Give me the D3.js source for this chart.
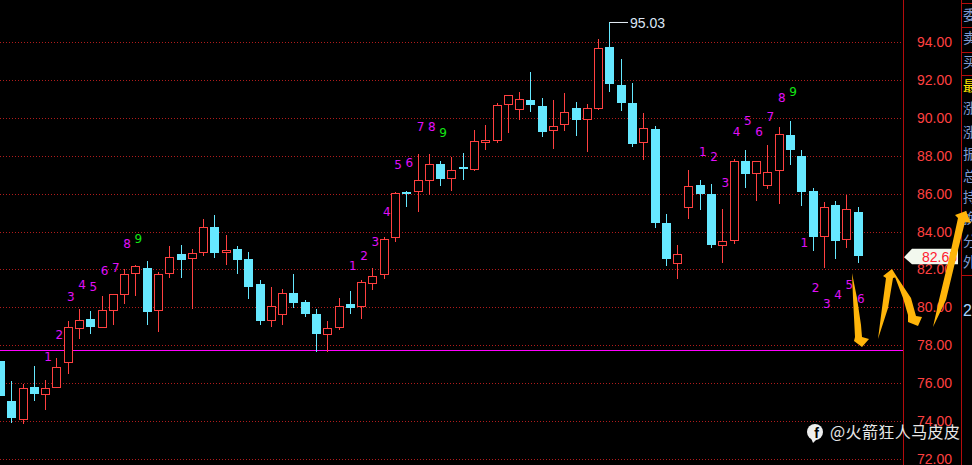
<!DOCTYPE html>
<html>
<head>
<meta charset="utf-8">
<script src="https://cdn.jsdelivr.net/npm/d3@7"></script>
<style>
  html, body { margin: 0; padding: 0; background: #000; overflow: hidden; }
  svg { display: block; }
</style>
</head>
<body>
<svg class="chart" width="972" height="465"></svg>
<script>
// candle values
const opens = [77.17,75.06,74.12,75.80,75.39,75.76,77.08,78.87,79.38,78.92,79.87,80.66,81.77,82.07,79.82,81.77,82.81,82.56,82.88,84.24,82.88,83.08,82.55,81.23,79.29,79.61,80.76,80.28,79.65,78.59,78.95,80.17,80.05,81.32,81.72,83.70,86.07,86.10,86.73,87.57,86.79,87.40,87.26,88.72,88.79,90.69,90.43,90.94,90.62,89.32,89.64,90.52,89.90,90.53,93.74,91.73,90.78,88.69,89.41,84.45,82.32,85.26,86.45,85.98,83.25,83.51,87.72,87.05,86.42,87.21,89.09,87.98,86.14,83.73,85.40,83.57,85.03];
const closes = [75.32,74.16,75.73,75.43,75.73,76.83,78.95,79.31,78.96,79.84,80.69,81.74,82.16,79.75,81.74,82.64,82.50,82.85,84.22,82.87,83.01,82.50,81.07,79.28,80.05,80.74,80.23,79.65,78.59,78.91,80.05,79.96,81.32,81.67,83.59,86.02,85.98,86.70,87.55,86.77,87.23,87.32,88.76,88.83,90.66,91.19,90.98,90.68,89.25,89.55,90.29,89.88,90.50,93.67,91.78,90.78,88.62,89.45,84.45,82.55,82.80,86.39,85.98,83.29,83.48,87.70,87.03,87.70,87.12,89.13,88.30,86.08,83.71,85.28,83.50,85.17,82.71];
const highs = [77.17,76.11,75.95,76.90,76.16,77.33,79.26,79.89,79.80,80.60,80.69,82.00,82.22,82.43,81.85,83.23,83.29,83.08,84.66,84.87,83.82,83.23,82.92,81.44,81.07,80.97,81.76,80.39,79.91,79.28,80.49,80.86,81.43,82.07,83.70,86.07,86.14,88.09,88.09,87.72,87.95,88.14,89.36,89.62,90.77,91.19,91.36,92.42,91.03,90.94,91.31,90.83,90.73,94.16,95.03,93.10,91.84,90.25,89.57,84.92,83.29,87.25,86.72,86.51,85.19,87.83,88.30,87.70,88.56,89.51,89.83,88.30,86.30,85.56,85.61,85.93,85.30];
const lows = [75.32,73.91,73.86,75.06,74.58,75.76,76.48,78.33,78.59,78.92,79.07,80.17,80.60,79.07,78.70,81.55,81.55,79.91,82.71,82.60,82.23,81.76,80.44,79.07,78.96,79.07,79.96,79.49,77.64,77.64,78.80,79.65,79.38,80.91,81.49,83.45,85.30,85.03,85.93,86.40,86.14,86.72,87.19,88.30,88.67,89.20,89.88,90.31,88.99,88.35,89.30,89.04,88.19,90.41,91.36,90.36,88.46,87.77,84.18,82.18,81.49,84.66,85.13,83.13,82.34,83.34,86.30,85.61,86.24,85.45,87.51,85.35,82.97,82.07,82.55,83.13,82.34];

// sequence counters above / below the candles
const countText = ["1","2","3","4","5","6","7","8","9","1","2","3","4","5","6","7","8","9","1","2","3","4","5","6","7","8","9","1","2","3","4","5","6"];
const countIndex = [4,5,6,7,8,9,10,11,12,31,32,33,34,35,36,37,38,39,62,63,64,65,66,67,68,69,70,71,72,73,74,75,76];
const countPrice = [77.38,78.54,80.54,81.18,81.07,81.92,82.07,83.34,83.60,82.18,82.71,83.45,85.03,87.51,87.62,89.51,89.51,89.20,88.19,87.93,86.56,89.25,89.83,89.25,90.04,91.04,91.36,83.39,81.02,80.17,80.65,81.18,80.44];

const priceTicks = [72,74,76,78,80,82,84,86,88,90,92,94];
const supportPrice = 77.73;
const lastPrice = 82.65;
const highIndex = 54;
const sideLabels = ["委","卖","买","最","涨","涨","振","总","持","换","分","外"];

const svg = d3.select(".chart");
const width = 972;
const height = 465;
const plotRight = 903;
const sideLeft = 961;

const red = "#ff4040";
const cyan = "#66e8ff";
const gridRed = "#b01c1c";
const frameRed = "#b40c0c";

const x = d3.scaleLinear().domain([0, opens.length - 1]).range([0, 857.7]);
const y = d3.scaleLinear().domain([72, 94]).range([459, 42]);

// crisp 1px lines
const px = (v) => Math.round(v) + 0.5;
const isUp = (i) => closes[i] >= opens[i];

svg.append("rect").attr("width", width).attr("height", height).attr("fill", "#000");

// grid
svg.append("g")
  .selectAll("line")
  .data(priceTicks)
  .join("line")
  .attr("x1", 0)
  .attr("x2", plotRight)
  .attr("y1", (d) => px(y(d)))
  .attr("y2", (d) => px(y(d)))
  .attr("stroke", gridRed)
  .attr("stroke-dasharray", "1,2");

// frame lines on the right
const frame = svg.append("g").attr("stroke", frameRed).attr("fill", "none");
frame.append("line").attr("x1", 903.5).attr("x2", 903.5).attr("y1", 0).attr("y2", height);
frame.append("line").attr("x1", sideLeft + 0.5).attr("x2", sideLeft + 0.5).attr("y1", 0).attr("y2", height);
[3, 27, 52, 75, 275].forEach((h) => {
  frame.append("line").attr("x1", sideLeft).attr("x2", width).attr("y1", h + 0.5).attr("y2", h + 0.5);
});

// price axis
const axis = d3.axisLeft(y).tickValues(priceTicks).tickFormat(d3.format(".2f")).tickSize(0);
const axisG = svg.append("g").attr("transform", "translate(952,0)").call(axis);
axisG.select(".domain").remove();
axisG.selectAll("text")
  .attr("x", 0)
  .attr("fill", red)
  .attr("font-family", "'Liberation Sans', Arial, sans-serif")
  .attr("font-size", 14);

// support line
svg.append("line")
  .attr("x1", 0)
  .attr("x2", plotRight)
  .attr("y1", px(y(supportPrice)))
  .attr("y2", px(y(supportPrice)))
  .attr("stroke", "#ff00ff");

// candles
const candles = svg.append("g")
  .selectAll("g")
  .data(opens.map((d, i) => i))
  .join("g");

candles.append("line")
  .attr("x1", (i) => px(x(i)))
  .attr("x2", (i) => px(x(i)))
  .attr("y1", (i) => Math.round(y(highs[i])))
  .attr("y2", (i) => Math.round(y(lows[i])))
  .attr("stroke", (i) => (isUp(i) ? red : cyan));

candles.append("rect")
  .attr("x", (i) => (isUp(i) ? px(x(i)) - 4 : px(x(i)) - 4.5))
  .attr("width", (i) => (isUp(i) ? 8 : 9))
  .attr("y", (i) => {
    const top = y(Math.max(opens[i], closes[i]));
    return isUp(i) ? px(top) : Math.round(top);
  })
  .attr("height", (i) => Math.max(Math.round(Math.abs(y(opens[i]) - y(closes[i]))), 1))
  .attr("fill", (i) => (isUp(i) ? "#000" : cyan))
  .attr("stroke", (i) => (isUp(i) ? red : "none"));

// counters
svg.append("g")
  .selectAll("text")
  .data(countText)
  .join("text")
  .attr("x", (d, i) => x(countIndex[i]) + 3)
  .attr("y", (d, i) => y(countPrice[i]))
  .attr("dy", "0.36em")
  .attr("text-anchor", "middle")
  .attr("font-family", "'DejaVu Sans', sans-serif")
  .attr("font-size", 12)
  .attr("fill", (d) => (d === "9" ? "#14e614" : "#e010f8"))
  .text((d) => d);

// highest price note
const highX = px(x(highIndex));
svg.append("path")
  .attr("d", `M${highX},${y(highs[highIndex])}H628`)
  .attr("fill", "none")
  .attr("stroke", "#e8f0f8");
svg.append("text")
  .attr("x", 630)
  .attr("y", y(highs[highIndex]))
  .attr("dy", "0.36em")
  .attr("font-family", "'Liberation Sans', Arial, sans-serif")
  .attr("font-size", 14)
  .attr("fill", "#dce6f5")
  .text(highs[highIndex].toFixed(2));

// last price tag
const tagY = y(lastPrice);
svg.append("path")
  .attr("d", `M904,${tagY}L912,${tagY - 8.5}H958V${tagY + 7}H912Z`)
  .attr("fill", "#f2f8ee");
svg.append("text")
  .attr("x", 922)
  .attr("y", tagY)
  .attr("dy", "0.36em")
  .attr("font-family", "'Liberation Sans', Arial, sans-serif")
  .attr("font-size", 14)
  .attr("fill", "#ff2030")
  .text(lastPrice.toFixed(2));

// side panel labels, cut off by the window edge
svg.append("g")
  .selectAll("text")
  .data(sideLabels)
  .join("text")
  .attr("x", 963)
  .attr("y", (d, i) => [15, 38, 62, 86, 108, 132, 154, 176, 197, 218, 241, 262][i])
  .attr("dy", "0.36em")
  .attr("font-family", "'Noto Sans CJK SC', sans-serif")
  .attr("font-size", 14)
  .attr("fill", (d) => (d === "最" ? "#ffe600" : "#7f9ad0"))
  .text((d) => d);

svg.append("text")
  .attr("x", 963)
  .attr("y", 310)
  .attr("dy", "0.36em")
  .attr("font-family", "'Liberation Sans', Arial, sans-serif")
  .attr("font-size", 16)
  .attr("fill", "#a8d4ff")
  .text("2");

// hand drawn arrows
const arrows = [
  "852,273 857,298 861,325 862,337 869,339 862,347 854,341 855,337 853,298",
  "878,339 882,308 886,278 883,276 892,269 897,277 893,278 888,308",
  "895,277 903,298 908,315 908,322 918,326 922,317 916,316 911,298 897,277",
  "933,327 939,300 951,250 958,218 955,215 966,211 971,223 965,222 958,250 946,300",
];
svg.append("g")
  .selectAll("polygon")
  .data(arrows)
  .join("polygon")
  .attr("points", (d) => d)
  .attr("fill", "#ffb50a");

// watermark
const mark = svg.append("g");
mark.append("circle").attr("cx", 815).attr("cy", 432).attr("r", 8).attr("fill", "#eee");
mark.append("path").attr("d", "M811,438L813,443L817,439Z").attr("fill", "#eee");
mark.append("text")
  .attr("x", 816.5)
  .attr("y", 438)
  .attr("text-anchor", "middle")
  .attr("font-family", "'Liberation Sans', Arial, sans-serif")
  .attr("font-weight", "bold")
  .attr("font-size", 14)
  .attr("fill", "#000")
  .text("f");
mark.append("text")
  .attr("x", 830)
  .attr("y", 432)
  .attr("dy", "0.36em")
  .attr("font-family", "'Noto Sans CJK SC', sans-serif")
  .attr("font-size", 16)
  .attr("letter-spacing", 0.4)
  .attr("fill", "#e8e8e8")
  .text("@火箭狂人马皮皮");
</script>
</body>
</html>
